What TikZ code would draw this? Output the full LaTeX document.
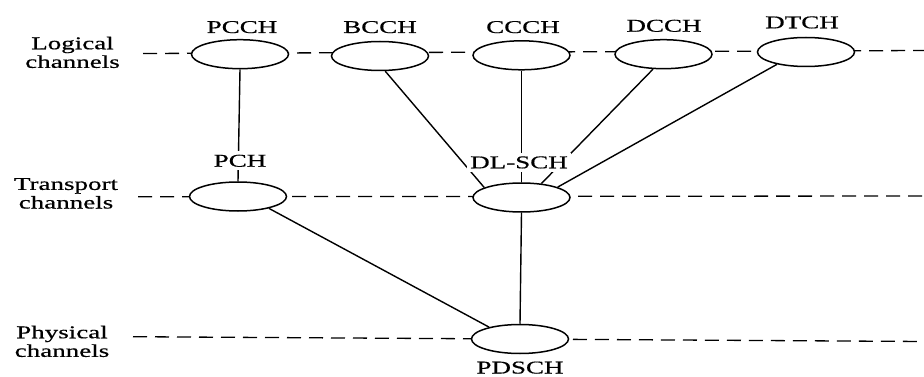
\documentclass[tikz,border=0pt]{standalone}
\usepackage{fontspec}
\setmainfont{Liberation Serif}[FakeStretch=1.5,FakeBold=0.6]
\usetikzlibrary{shapes.geometric}
\begin{document}
\begin{tikzpicture}[x=1pt,y=-1pt,
  chan/.style={ellipse, draw, line width=1.5pt, fill=white, minimum width=97pt, minimum height=29pt, inner sep=0pt},
  lbl/.style={font=\fontsize{18}{18.6}\selectfont, fill=white, inner sep=3.5pt, anchor=base},
  side/.style={font=\fontsize{18}{18.6}\selectfont, align=center, inner sep=0pt},
  guide/.style={line width=1.3pt, dash pattern=on 14pt off 8pt},
  link/.style={line width=1.4pt}]
\useasboundingbox[fill=white] (0,0) rectangle (924,377);
% guide lines
\coordinate (logL) at (143,53.5); \coordinate (logR) at (924,50.5);
\coordinate (traL) at (138,196.7); \coordinate (traR) at (924,196);
\coordinate (phyL) at (133,336.7); \coordinate (phyR) at (924,341.5);
\draw[guide] (logL) -- (logR);
\draw[guide] (traL) -- (traR);
\draw[guide] (phyL) -- (phyR);
% channels
\node[chan] (pcch) at (240,54.2) {};
\node[chan] (bcch) at (380,56) {};
\node[chan] (ccch) at (521.5,55.3) {};
\node[chan] (dcch) at (663.5,54.2) {};
\node[chan] (dtch) at (806,52) {};
\node[chan] (pch) at (238,196.5) {};
\node[chan] (dlsch) at (521.5,197.5) {};
\node[chan] (pdsch) at (520,339) {};
% connectors
\draw[link] (pcch.south) -- (pch.north);
\draw[link] (bcch.-71) -- (dlsch.165);
\draw[link] (ccch.south) -- (dlsch.north);
\draw[link] (dcch.-125) -- (dlsch.35);
\draw[link] (dtch.203) -- (dlsch.16);
\draw[link] (pch.-21) -- (pdsch.159);
\draw[link] (dlsch.south) -- (pdsch.north);
% labels
\node[lbl] (lpcch) at (242,33) {PCCH};
\node[lbl] (lbcch) at (380,33) {BCCH};
\node[lbl] (lccch) at (523,33) {CCCH};
\node[lbl] (ldcch) at (664,31.7) {DCCH};
\node[lbl] (ldtch) at (802,28.3) {DTCH};
\node[lbl] (lpch) at (240,166.7) {PCH};
\node[lbl] (ldlsch) at (519,168.3) {DL-SCH};
\node[lbl, fill=none, inner sep=0pt] (lpdsch) at (520,373.5) {PDSCH};
% side labels
\node[side] (slog) at (72.5,52.4) {Logical\\channels};
\node[side] (stra) at (66,193.4) {Transport\\channels};
\node[side] (sphy) at (62,341.4) {Physical\\channels};
\end{tikzpicture}
\end{document}
